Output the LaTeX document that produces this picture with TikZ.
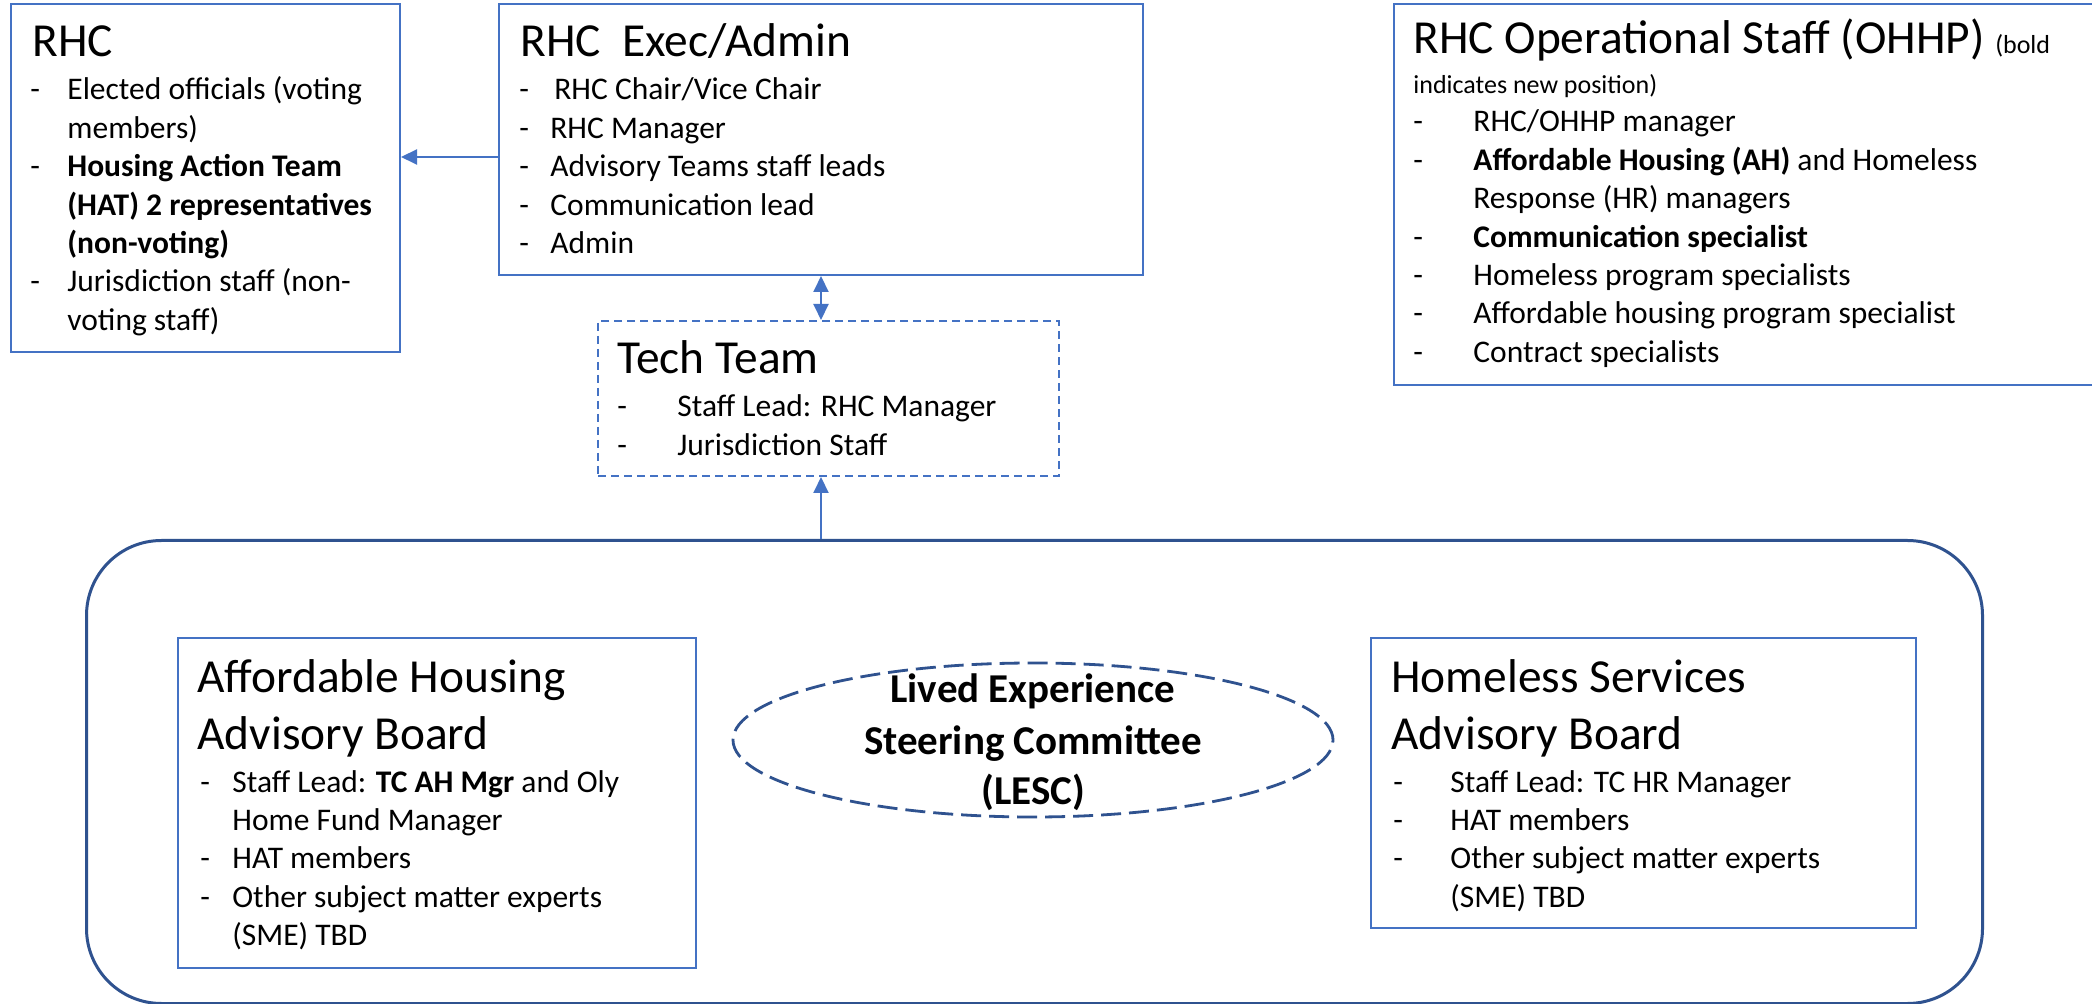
\documentclass[tikz,border=0pt]{standalone}
\usepackage{fontspec}
\setmainfont{Carlito}
\usetikzlibrary{arrows.meta,shapes.geometric}
\definecolor{boxblue}{HTML}{4472C4}
\definecolor{darkblue}{HTML}{2F528F}
\newcommand{\dashitem}[2]{\makebox[#1][l]{-}#2}
\newcommand{\contline}[2]{\hspace*{#1}#2}
\newcommand{\itemfont}{\fontsize{15.75}{19.2}\selectfont}
\newcommand{\titlefont}{\fontsize{23.7}{28.5}\selectfont}
\newcommand{\smallnote}{\fontsize{13}{19.2}\selectfont}
\begin{document}
\begin{tikzpicture}[x=0.5pt,y=-0.5pt,
  box/.style={draw=boxblue, line width=1pt, inner sep=0, anchor=north west, rectangle},
  txt/.style={inner sep=0, anchor=base west, text=black},
  conn/.style={draw=boxblue, line width=1pt, -{Triangle[length=8pt,width=7.5pt]}},
]
\useasboundingbox[fill=white] (0,0) rectangle (2092,1004);

% boxes
\node[box, minimum width=194.5pt, minimum height=174pt] (rhc) at (10,3) {};
\node[box, minimum width=322pt, minimum height=135.5pt] (exec) at (498,3) {};
\node[box, dash pattern=on 4pt off 2.5pt, minimum width=230.5pt, minimum height=77.5pt] (tech) at (597,320) {};
\node[box, minimum width=351pt, minimum height=190.5pt] (ohhp) at (1393,3) {};
\node[box, draw=darkblue, line width=1.5pt, rounded corners=37.5pt, minimum width=948pt, minimum height=231.5pt] (big) at (85,539) {};
\node[box, minimum width=259pt, minimum height=165pt] (ah) at (177,637) {};
\node[box, minimum width=272.5pt, minimum height=145pt] (hs) at (1370,637) {};
\node[ellipse, draw=darkblue, line width=1.4pt, dash pattern=on 10pt off 4pt, inner sep=0, minimum width=300pt, minimum height=77pt] (lesc) at (1033,740) {};

% connectors
\coordinate (arrowy) at (0,157);
\draw[conn] (exec.west |- arrowy) -- (rhc.east |- arrowy);
\draw[conn, {Triangle[length=8pt,width=7.5pt]}-{Triangle[length=8pt,width=7.5pt]}] (exec.south) -- (exec.south |- tech.north);
\draw[conn] (big.north -| exec.south) -- (tech.south -| exec.south);

% RHC
\node[txt, font=\titlefont] (rhcT) at (32,57) {RHC};
\node[txt, font=\itemfont] (rhcL) at (30,100) {\begin{tabular}[t]{@{}l@{}}
\dashitem{18.5pt}{Elected officials (voting}\\
\contline{18.5pt}{members)}\\
\dashitem{18.5pt}{\textbf{Housing Action Team}}\\
\contline{18.5pt}{\textbf{(HAT) 2 representatives}}\\
\contline{18.5pt}{\textbf{(non-voting)}}\\
\dashitem{18.5pt}{Jurisdiction staff (non-}\\
\contline{18.5pt}{voting staff)}
\end{tabular}};

% Exec/Admin
\node[txt, font=\titlefont] (execT) at (520,57) {RHC\ \ Exec/Admin};
\node[txt, font=\itemfont] (execL) at (519,100) {\begin{tabular}[t]{@{}l@{}}
\dashitem{15.5pt}{\hspace{2pt}RHC Chair/Vice Chair}\\
\dashitem{15.5pt}{RHC Manager}\\
\dashitem{15.5pt}{Advisory Teams staff leads}\\
\dashitem{15.5pt}{Communication lead}\\
\dashitem{15.5pt}{Admin}
\end{tabular}};

% Tech Team
\node[txt, font=\titlefont] (techT) at (617,374) {Tech Team};
\node[txt, font=\itemfont] (techL) at (617,417) {\begin{tabular}[t]{@{}l@{}}
\dashitem{30pt}{Staff Lead: RHC Manager}\\
\dashitem{30pt}{Jurisdiction Staff}
\end{tabular}};

% OHHP
\node[txt, font=\titlefont] (ohhpT) at (1413,54) {RHC Operational Staff (OHHP) {\smallnote(bold}};
\node[txt, font=\smallnote] (ohhpN) at (1413,94) {indicates new position)};
\node[txt, font=\itemfont] (ohhpL) at (1413,132) {\begin{tabular}[t]{@{}l@{}}
\dashitem{30pt}{RHC/OHHP manager}\\
\dashitem{30pt}{\textbf{Affordable Housing (AH)} and Homeless}\\
\contline{30pt}{Response (HR) managers}\\
\dashitem{30pt}{\textbf{Communication specialist}}\\
\dashitem{30pt}{Homeless program specialists}\\
\dashitem{30pt}{Affordable housing program specialist}\\
\dashitem{30pt}{Contract specialists}
\end{tabular}};

% Affordable Housing Advisory Board
\node[txt, font=\titlefont] (ahT) at (197,692) {\begin{tabular}[t]{@{}l@{}}Affordable Housing\\Advisory Board\end{tabular}};
\node[txt, font=\itemfont] (ahL) at (200,792) {\begin{tabular}[t]{@{}l@{}}
\dashitem{16pt}{Staff Lead: \textbf{TC AH Mgr} and Oly}\\
\contline{16pt}{Home Fund Manager}\\
\dashitem{16pt}{HAT members}\\
\dashitem{16pt}{Other subject matter experts}\\
\contline{16pt}{(SME) TBD}
\end{tabular}};

% Homeless Services Advisory Board
\node[txt, font=\titlefont] (hsT) at (1391,692) {\begin{tabular}[t]{@{}l@{}}Homeless Services\\Advisory Board\end{tabular}};
\node[txt, font=\itemfont] (hsL) at (1393,792) {\begin{tabular}[t]{@{}l@{}}
\dashitem{28.5pt}{Staff Lead: TC HR Manager}\\
\dashitem{28.5pt}{HAT members}\\
\dashitem{28.5pt}{Other subject matter experts}\\
\contline{28.5pt}{(SME) TBD}
\end{tabular}};

% LESC
\node[inner sep=0, anchor=base, font=\fontsize{20.5}{25.5}\selectfont\bfseries] (lescT) at (1033,703) {\begin{tabular}[t]{@{}c@{}}Lived Experience\\Steering Committee\\(LESC)\end{tabular}};
\end{tikzpicture}
\end{document}
